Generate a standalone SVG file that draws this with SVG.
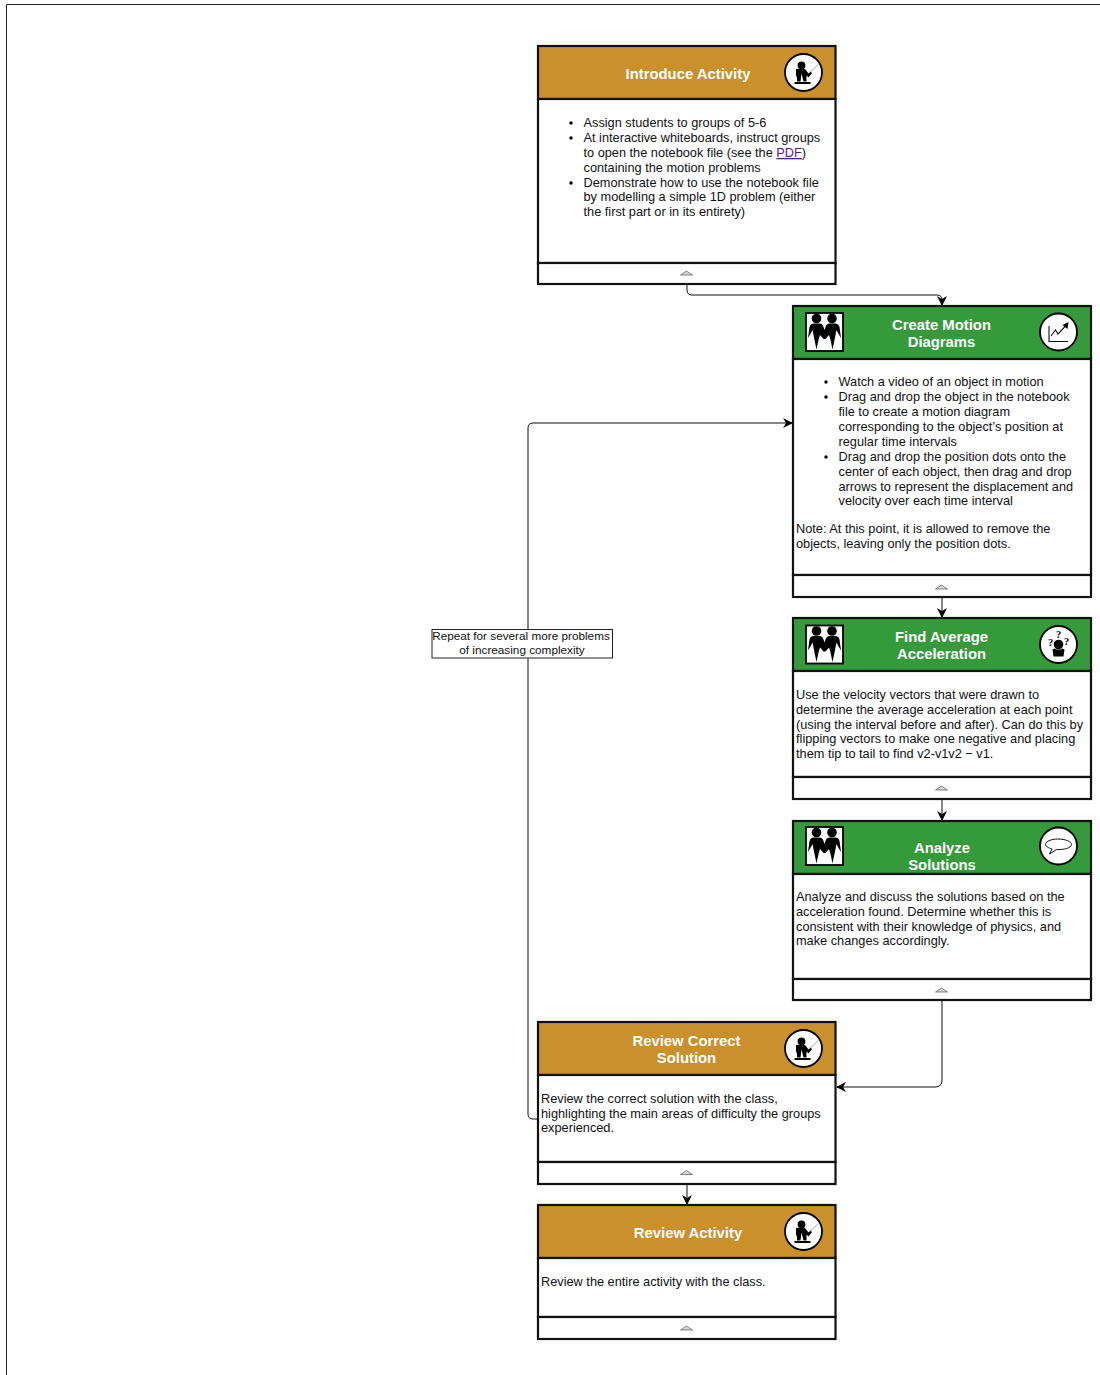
<svg xmlns="http://www.w3.org/2000/svg" width="1100" height="1375" viewBox="0 0 1100 1375">
<style>
text{font-family:"Liberation Sans",Arial,sans-serif;font-size:12.75px;fill:#111}
.t{font-size:14.85px;font-weight:bold;fill:#fff;text-anchor:middle}
.o{fill:#c9902c;stroke:#111;stroke-width:2.2}
.g{fill:#359a3a;stroke:#111;stroke-width:2.2}
.w{fill:#fff;stroke:#111;stroke-width:2.2}
.c{fill:none;stroke:#111;stroke-width:1}
.ci{fill:#fff;stroke:#000;stroke-width:1.8}
.k{fill:#000}
.tri{fill:#d8d8d8;stroke:#555;stroke-width:.7}
.m{text-anchor:middle}
.lb{font-size:11.75px}
.q{font-size:10.5px;font-family:"Liberation Serif",serif;font-weight:bold;fill:#000;text-anchor:middle}
</style>
<defs>
<marker id="a" viewBox="0 0 10 10" refX="9" refY="5" markerWidth="10" markerHeight="10" markerUnits="userSpaceOnUse" orient="auto"><path d="M0 0L10 5L0 10L3 5Z" fill="#000"/></marker>
<g id="teach"><circle class="ci" cx="0" cy="0" r="18.5"/><circle class="k" cx="-2" cy="-7" r="3.9"/><path class="k" d="M-7.500 -3Q-7.500 -4-6 -3.500H1.500L5 1L7 -1L8.500 0.500L5 5L3 3V9H0L-2 1L-3 9H-6.500L-6.500 3L-7.500 5Z"/><rect class="k" x="-9" y="9.500" width="16" height="2"/><path d="M6 0L15 -8" stroke="#aaa" stroke-width="1"/></g>
<g id="ppl"><rect x="-18.500" y="-19" width="37" height="38" fill="#fff" stroke="#000" stroke-width="1.800"/><circle class="k" cx="-8" cy="-13.500" r="4.800"/><circle class="k" cx="7.500" cy="-13.500" r="4.800"/><path class="k" d="M-16.500 6L-15 -5Q-14 -8.500-11 -8.500H-5Q-2 -8.500-1 -5L0 -2L1 -5Q2 -8.500 5 -8.500H11Q14 -8.500 15 -5L16.500 6L13.500 1L12 -2L10 8L8 17.500L6 8L4.500 3L1 7H-1L-4.500 3L-6 8L-8 17.500L-10 8L-12 -2L-13.500 1Z"/></g>
<g id="chart"><circle class="ci" cx="0" cy="0" r="18.500"/><path d="M-9.500 -6V9.500H9.500M-7.500 4L-3 -2L-0.500 2L7 -6" fill="none" stroke="#111" stroke-width="1.100"/><path class="k" d="M10 -10L9 -3L4 -7Z"/></g>
<g id="quest"><circle class="ci" cx="0" cy="0" r="18.500"/><circle class="k" cx="0" cy="0" r="4.800"/><path class="k" d="M-6 5L-4 4L-2 5H2L4 4L6 5L5 12H-5Z"/><text class="q" x="-8" y="1">?</text><text class="q" x="0" y="-7">?</text><text class="q" x="8" y="0">?</text></g>
<g id="speech"><circle class="ci" cx="0" cy="0" r="18.500"/><path d="M-1 -7C7 -7 13 -4.500 13 -1.500C13 2 5 4 -2 3.500L-9 8L-6.500 3C-10 2-13 0-13 -1.500C-13 -4.500-7 -7-1 -7Z" fill="#fff" stroke="#111" stroke-width="1"/></g>
<path id="tr" class="tri" d="M-6 2L0 -2L6 2Z"/>
</defs>
<rect width="1100" height="1375" fill="#fff"/>
<path d="M1100 4.500H6.500V1375" fill="none" stroke="#222" stroke-width="1"/>
<g id="connectors">
<path class="c" d="M687 285V290Q687 295 692 295H937Q942 295 942 300V305" marker-end="url(#a)"/>
<path class="c" d="M942 597V617" marker-end="url(#a)"/>
<path class="c" d="M942 799V820" marker-end="url(#a)"/>
<path class="c" d="M942 1001V1080Q942 1087 935 1087H837" marker-end="url(#a)"/>
<path class="c" d="M687 1184V1204" marker-end="url(#a)"/>
<path class="c" d="M538 1119H533Q528 1119 528 1114V428Q528 423 533 423H792" marker-end="url(#a)"/>
</g>
<g id="intro-activity">
<rect class="o" x="538" y="46" width="297.500" height="53"/><rect class="w" x="538" y="99" width="297.500" height="164"/><rect class="w" x="538" y="263" width="297.500" height="21"/>
<text class="t" x="688" y="79">Introduce Activity</text>
<use href="#teach" x="803.500" y="72.500"/><use href="#tr" x="686.500" y="273"/>
<circle class="k" cx="571" cy="123" r="1.700"/><circle class="k" cx="571" cy="138" r="1.700"/><circle class="k" cx="571" cy="183" r="1.700"/>
<text x="583.500" y="127">Assign students to groups of 5-6</text>
<text x="583.500" y="142">At interactive whiteboards, instruct groups</text>
<text x="583.500" y="157">to open the notebook file (see the <tspan fill="#551a8b" text-decoration="underline">PDF</tspan>)</text>
<text x="583.500" y="172">containing the motion problems</text>
<text x="583.500" y="187">Demonstrate how to use the notebook file</text>
<text x="583.500" y="201">by modelling a simple 1D problem (either</text>
<text x="583.500" y="216">the first part or in its entirety)</text>
</g>
<g id="create-motion">
<rect class="g" x="793" y="306" width="298" height="53"/><rect class="w" x="793" y="359" width="298" height="216"/><rect class="w" x="793" y="575" width="298" height="22"/>
<text class="t" x="941.500" y="330">Create Motion</text><text class="t" x="941.500" y="347">Diagrams</text>
<use href="#ppl" x="824.500" y="332"/><use href="#chart" x="1058.500" y="332"/><use href="#tr" x="941.500" y="587"/>
<circle class="k" cx="826" cy="382" r="1.700"/><circle class="k" cx="826" cy="397" r="1.700"/><circle class="k" cx="826" cy="457" r="1.700"/>
<text x="838.500" y="386">Watch a video of an object in motion</text>
<text x="838.500" y="401">Drag and drop the object in the notebook</text>
<text x="838.500" y="416">file to create a motion diagram</text>
<text x="838.500" y="431">corresponding to the object’s position at</text>
<text x="838.500" y="446">regular time intervals</text>
<text x="838.500" y="461">Drag and drop the position dots onto the</text>
<text x="838.500" y="476">center of each object, then drag and drop</text>
<text x="838.500" y="491">arrows to represent the displacement and</text>
<text x="838.500" y="505">velocity over each time interval</text>
<text x="796" y="533">Note: At this point, it is allowed to remove the</text>
<text x="796" y="548">objects, leaving only the position dots.</text>
</g>
<g id="find-acceleration">
<rect class="g" x="793" y="618" width="298" height="53"/><rect class="w" x="793" y="671" width="298" height="106"/><rect class="w" x="793" y="777" width="298" height="22"/>
<text class="t" x="941.500" y="642">Find Average</text><text class="t" x="941.500" y="659">Acceleration</text>
<use href="#ppl" x="824.500" y="644.500"/><use href="#quest" x="1058.500" y="644.500"/><use href="#tr" x="941.500" y="788"/>
<text x="796" y="699">Use the velocity vectors that were drawn to</text>
<text x="796" y="714">determine the average acceleration at each point</text>
<text x="796" y="729">(using the interval before and after). Can do this by</text>
<text x="796" y="743">flipping vectors to make one negative and placing</text>
<text x="796" y="758">them tip to tail to find v2-v1v2 − v1.</text>
</g>
<g id="analyze-solutions">
<rect class="g" x="793" y="821" width="298" height="53"/><rect class="w" x="793" y="874" width="298" height="105"/><rect class="w" x="793" y="979" width="298" height="21"/>
<text class="t" x="942" y="853">Analyze</text><text class="t" x="942" y="870">Solutions</text>
<use href="#ppl" x="824.500" y="846"/><use href="#speech" x="1058.500" y="846"/><use href="#tr" x="941.500" y="990"/>
<text x="796" y="901">Analyze and discuss the solutions based on the</text>
<text x="796" y="916">acceleration found. Determine whether this is</text>
<text x="796" y="931">consistent with their knowledge of physics, and</text>
<text x="796" y="945">make changes accordingly.</text>
</g>
<g id="review-correct">
<rect class="o" x="538" y="1022" width="297.500" height="53"/><rect class="w" x="538" y="1075" width="297.500" height="87"/><rect class="w" x="538" y="1162" width="297.500" height="22"/>
<text class="t" x="686.500" y="1046">Review Correct</text><text class="t" x="686.500" y="1063">Solution</text>
<use href="#teach" x="803.500" y="1048.500"/><use href="#tr" x="686.500" y="1172.500"/>
<text x="541" y="1103">Review the correct solution with the class,</text>
<text x="541" y="1118">highlighting the main areas of difficulty the groups</text>
<text x="541" y="1132">experienced.</text>
</g>
<g id="review-activity">
<rect class="o" x="538" y="1205" width="297.500" height="53"/><rect class="w" x="538" y="1258" width="297.500" height="59"/><rect class="w" x="538" y="1317" width="297.500" height="22"/>
<text class="t" x="688" y="1238">Review Activity</text>
<use href="#teach" x="803.500" y="1231.500"/><use href="#tr" x="686.500" y="1328"/>
<text x="541" y="1286">Review the entire activity with the class.</text>
</g>
<g id="repeat-label">
<rect x="432" y="629.500" width="180.500" height="28.500" fill="#fff" stroke="#222" stroke-width="1"/>
<text class="m lb" x="521" y="640">Repeat for several more problems</text>
<text class="m lb" x="522" y="654">of increasing complexity</text>
</g>
</svg>
